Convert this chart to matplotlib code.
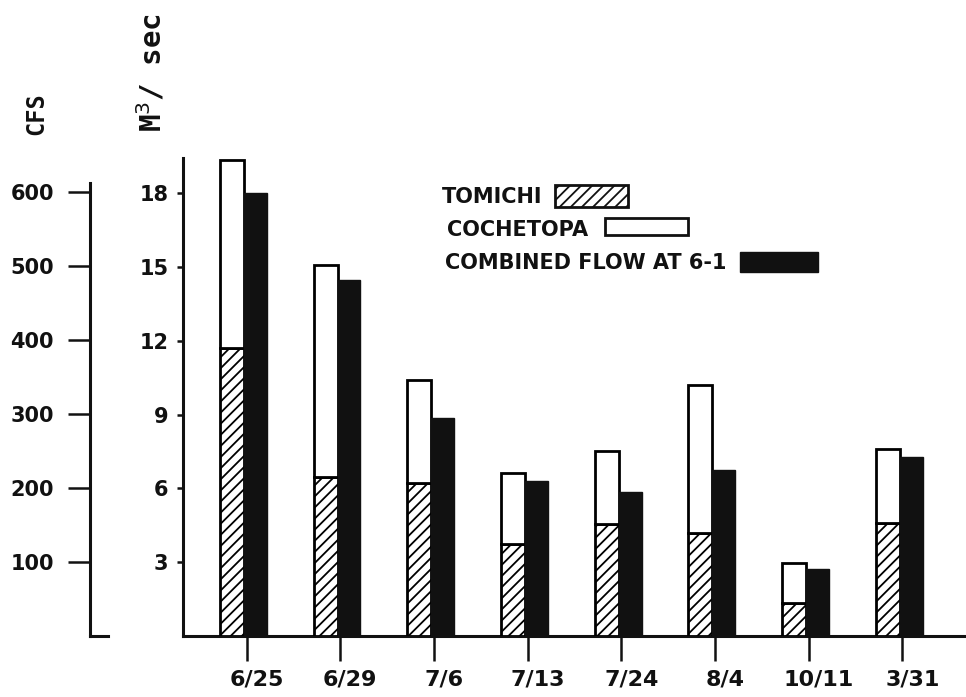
import matplotlib
matplotlib.use("Agg")
import matplotlib.pyplot as plt
from matplotlib.patches import Rectangle
from matplotlib.transforms import ScaledTranslation
import numpy as np

plt.rcParams['hatch.linewidth'] = 1.3

# ---- data (m^3/sec) ----
dates = ["6/25", "6/29", "7/6", "7/13", "7/24", "8/4", "10/11", "3/31"]
tomichi = [11.7, 6.46, 6.2, 3.74, 4.55, 4.19, 1.34, 4.6]
cochetopa = [7.65, 8.64, 4.2, 2.89, 2.97, 6.01, 1.63, 3.0]
combined = [18.0, 14.47, 8.86, 6.3, 5.85, 6.75, 2.72, 7.28]
m3_ticks = [3, 6, 9, 12, 15, 18]
cfs_ticks = [100, 200, 300, 400, 500, 600]
legend_labels = ["TOMICHI", "COCHETOPA", "COMBINED FLOW AT 6-1"]

W, H = 966, 697
fig = plt.figure(figsize=(W / 100, H / 100), dpi=100)

def fx(x):
    return x / W

def fy(y):
    return 1 - y / H

label_font = dict(family='DejaVu Sans', weight='bold')
num_font = dict(family='DejaVu Sans', weight='bold')
mono_font = dict(family='DejaVu Sans Mono', weight='bold')

# ---- main axes (M^3/sec) ----
ax = fig.add_axes([fx(183), fy(636), fx(966) - fx(183), fy(158) - fy(636)])
ax.set_ylim(0, (636 - 158) / 24.6)
ax.set_xlim(-0.678, 7.679)

x = np.arange(len(dates))
w1, w2 = 0.256, 0.245
ax.bar(x - 0.285, tomichi, width=w1, align='edge', facecolor='white',
       edgecolor='black', hatch='///', linewidth=2.0, zorder=3)
ax.bar(x - 0.285, cochetopa, width=w1, bottom=tomichi, align='edge',
       facecolor='white', edgecolor='black', linewidth=2.0, zorder=3)
ax.bar(x - 0.029, combined, width=w2, align='edge', facecolor='#111111',
       edgecolor='#111111', linewidth=1.0, zorder=3)

for s in ['top', 'right']:
    ax.spines[s].set_visible(False)
for s in ['left', 'bottom']:
    ax.spines[s].set_linewidth(2.2)
    ax.spines[s].set_color('#111111')

ax.set_yticks(m3_ticks)
ax.set_yticklabels([str(t) for t in m3_ticks], fontsize=15, **num_font)
ax.tick_params(axis='y', direction='out', length=4.5, width=1.8, pad=6,
               colors='#111111')
ax.set_xticks(x)
ax.set_xticklabels(dates, fontsize=16, **num_font)
ax.tick_params(axis='x', direction='out', length=18, width=1.8, pad=6,
               colors='#111111')
off = ScaledTranslation(0.10, 0, fig.dpi_scale_trans)
for lab in ax.get_xticklabels():
    lab.set_transform(lab.get_transform() + off)

# ---- CFS axis ----
ax2 = fig.add_axes([fx(90), fy(636), fx(108) - fx(90), fy(183) - fy(636)])
ax2.set_ylim(0, (636 - 183) / 0.74)
ax2.set_xlim(0, 1)
ax2.patch.set_alpha(0)
for s in ['top', 'right']:
    ax2.spines[s].set_visible(False)
for s in ['left', 'bottom']:
    ax2.spines[s].set_linewidth(2.2)
    ax2.spines[s].set_color('#111111')
ax2.set_xticks([])
ax2.set_yticks(cfs_ticks)
ax2.set_yticklabels([str(t) for t in cfs_ticks], fontsize=15, **num_font)
ax2.tick_params(axis='y', direction='out', length=16, width=1.8, pad=10,
                colors='#111111')

# ---- axis titles ----
fig.text(fx(36), fy(114), "CFS", rotation=90, ha='center', va='center',
         fontsize=17, color='#111111', **mono_font)
fig.text(fx(152), fy(73), r"M$^3$/ sec", rotation=90, ha='center', va='center',
         fontsize=21, color='#111111', **mono_font)

# ---- legend ----
text_pos = [(442, 197), (447, 230), (445, 263)]
boxes = [(555, 185, 628, 207), (605, 218, 688, 235), (740, 252, 818, 272)]
styles = [dict(facecolor='white', edgecolor='#111111', hatch='///', linewidth=2.0),
          dict(facecolor='white', edgecolor='#111111', linewidth=2.0),
          dict(facecolor='#111111', edgecolor='#111111', linewidth=1.0)]
for lab, (tx, ty), (x0, y0, x1, y1), st in zip(legend_labels, text_pos, boxes, styles):
    fig.text(fx(tx), fy(ty), lab, ha='left', va='center', fontsize=15,
             color='#111111', **label_font)
    fig.add_artist(Rectangle((fx(x0), fy(y1)), fx(x1) - fx(x0), fy(y0) - fy(y1),
                             transform=fig.transFigure, **st))

fig.savefig("out.png", dpi=100)
